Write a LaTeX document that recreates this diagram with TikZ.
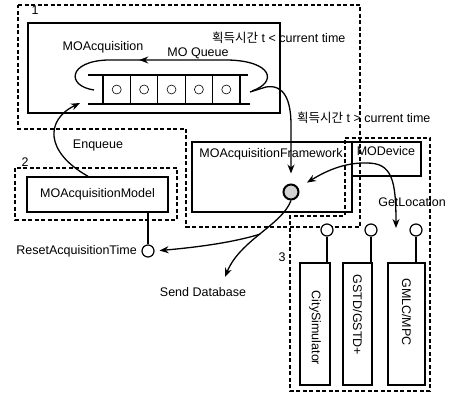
\documentclass[tikz,border=0pt]{standalone}
\usepackage{fontspec}
\setmainfont{Liberation Sans}
\newfontfamily\krfont{Noto Sans CJK KR}
\usetikzlibrary{arrows.meta,decorations.markings,calc}
\begin{document}
\begin{tikzpicture}[x=1pt,y=-1pt,
  font=\fontsize{12.5}{15}\selectfont,
  box/.style={draw, line width=1.4pt, inner sep=0pt},
  grp/.style={draw, line width=1.2pt, dash pattern=on 4pt off 2.5pt},
  conn/.style={line width=1.3pt},
  arr/.style={conn, -{Stealth[length=9pt,width=7pt]}},
  lolli/.style={circle, draw, line width=1.2pt, fill=white, minimum size=12pt, inner sep=0pt},
  cell/.style={draw, line width=1.1pt, minimum width=27.4pt, minimum height=29pt, inner sep=0pt},
  lbl/.style={inner sep=0pt}
]
\useasboundingbox (0,0) rectangle (450,395);

% group outlines
\draw[grp] (18,5) -- (360,5) -- (360,227) -- (186,227) -- (186,129) -- (18,129) -- cycle;
\draw[grp] (15,168) rectangle (177,220);
\draw[grp] (345,138) -- (430,138) -- (430,391) -- (290,391) -- (290,216) -- (345,216) -- cycle;
\node[lbl] (n1) at (35,10) {1};
\node[lbl] (n2) at (25,162) {2};
\node[lbl] (n3) at (282,257) {3};

% MOAcquisition
\node[box, minimum width=252pt, minimum height=90pt] (acq) at (154,68) {};
\node[lbl] (acqlbl) at (103,47) {MOAcquisition};
\node[lbl] (mq) at (198,53) {MO Queue};
\draw[conn] (88,75) -- (248,75);
\draw[conn] (88,104) -- (250,104);
\foreach \i in {0,...,4}{
  \node[cell] (c\i) at (116.7+27.4*\i, 89.5) {};
  \node[circle, draw, line width=0.6pt, minimum size=9pt, inner sep=0pt] (o\i) at (c\i) {};
}
\draw[conn, decoration={markings, mark=at position 0.62 with {\arrow{Stealth[length=9pt,width=7pt]}}}, postaction={decorate}]
  (252,91) .. controls (278,82) and (272,61) .. (228,60) -- (108,60) .. controls (68,61) and (66,86) .. (94,90);

\node[lbl, anchor=west] (t1) at (212,38) {{\krfont 획득시간} t < current time};
\node[lbl, anchor=west] (t2) at (297,118) {{\krfont 획득시간} t > current time};

% Framework and device
\node[box, minimum width=160pt, minimum height=70pt] (fw) at (272,177) {};
\node[lbl] (fwlbl) at (271,154) {MOAcquisitionFramework};
\node[box, minimum width=69pt, minimum height=34pt] (dev) at (386.5,159) {};
\node[lbl] (devlbl) at (386,151) {MODevice};
\node[circle, draw, line width=2pt, fill=gray!35, minimum size=15pt, inner sep=0pt] (fc) at (291,192) {};

% Model
\node[box, minimum width=141pt, minimum height=35pt] (model) at (97.5,194.5) {MOAcquisitionModel};
\node[lolli] (rc) at (148,251) {};
\draw[conn] (rc.north) -- (rc.north |- model.south);
\node[lbl, anchor=east] (rlbl) at (137,251) {ResetAcquisitionTime};

% devices
\node[box, minimum width=30pt, minimum height=122pt] (city) at (315,324) {};
\node[box, minimum width=29pt, minimum height=122pt] (gstd) at (357.5,324) {};
\node[box, minimum width=37pt, minimum height=122pt] (gmlc) at (406.5,324) {};
\node[lbl, rotate=-90] (citylbl) at (315,328) {CitySimulator};
\node[lbl, rotate=-90] (gstdlbl) at (357.5,315) {GSTD/GSTD+};
\node[lbl, rotate=-90] (gmlclbl) at (406.5,312) {GMLC/MPC};
\node[lolli] (l1) at (327,230) {};
\node[lolli] (l2) at (371,230) {};
\node[lolli] (l3) at (416,230) {};
\draw[conn] (l1.south) -- (l1.south |- city.north);
\draw[conn] (l2.south) -- (l2.south |- gstd.north);
\draw[conn] (l3.south) -- (l3.south |- gmlc.north);

% labels
\node[lbl] (enqlbl) at (98,145) {Enqueue};
\node[lbl] (sendlbl) at (203,292) {Send Database};
\node[lbl] (gllbl) at (412,202) {GetLocation};

% connectors
\coordinate (qend) at (250,92);
\coordinate (enqtip) at (80,103);
\coordinate (sendtip) at (225,277);
\coordinate (peak) at (367,163);
\coordinate (gltip) at (396,228);
\draw[arr, shorten >=10pt] (qend) -- (266,87) .. controls (284,84) and (291,100) .. (291,125) -- (fc);
\draw[arr] ([xshift=-9.5pt]model.north) .. controls (45,152) and (45,120) .. (enqtip);
\draw[arr] (fc.south) .. controls (282,225) and (240,240) .. coordinate[pos=0.5] (split) (sendtip);
\draw[arr, shorten >=5pt] (split) .. controls (235,242) and (200,247) .. (rc.east);
\draw[arr, shorten >=10pt] (peak) .. controls (340,162) and (318,176) .. (fc);
\draw[arr] (peak) .. controls (392,163) and (396,180) .. (gltip);
\end{tikzpicture}
\end{document}
